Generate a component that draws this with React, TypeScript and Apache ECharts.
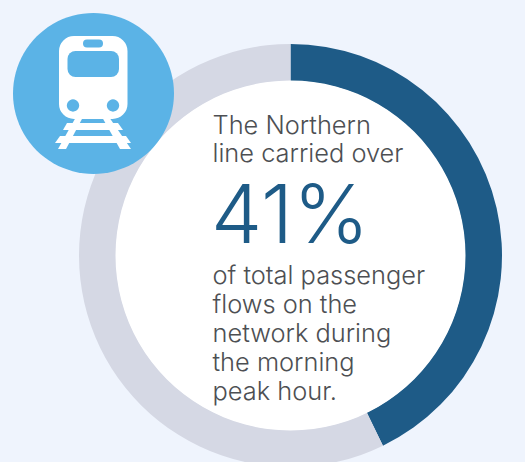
import React, { useEffect, useRef } from "react";
import * as echarts from "echarts";

const shareLabels = ["Northern line", "Rest of network"];
const shareValues = [42.8, 57.2];
const shareColors = ["#1e5b87", "#d5d8e4"];
const introLines = ["The Northern", "line carried over"];
const bigNumber = "41%";
const outroLines = ["of total passenger", "flows on the", "network during", "the morning", "peak hour."];

const FONT = "Inter";
const TEXT = "#4d4f53";
const ICON = "#5bb3e6";

function txt(text: string, x: number, centerY: number, fontSize: number, fill: string, fontWeight: number | string = 300) {
  return { type: "text", x, y: centerY, z: 20, silent: true,
    style: { text, fontFamily: FONT, fontSize, fontWeight, fill, verticalAlign: "middle", align: "left" } };
}

export default function App() {
  const ref = useRef<HTMLDivElement>(null);
  useEffect(() => {
    document.body.style.margin = "0";
    document.body.style.background = "#eff4fd";
    const chart = echarts.init(ref.current!, null, { renderer: "svg" });
    const white = { fill: "#ffffff" };
    const blue = { fill: ICON };
    chart.setOption({
      animation: false,
      backgroundColor: "#eff4fd",
      series: [{
        type: "pie", center: [290.5, 255.5], radius: [174.5, 211.5], startAngle: 90,
        silent: true, label: { show: false }, labelLine: { show: false }, z: 2,
        data: shareLabels.map((name, i) => ({ name, value: shareValues[i], itemStyle: { color: shareColors[i] } })),
      }],
      graphic: [
        { type: "circle", z: 5, silent: true, shape: { cx: 290.5, cy: 255.5, r: 175 }, style: white },
        { type: "circle", z: 10, silent: true, shape: { cx: 93.5, cy: 93.5, r: 80.5 }, style: blue },
        { type: "polygon", z: 11, silent: true, shape: { points: [[76, 117], [83, 117], [66, 149], [58, 149]] }, style: white },
        { type: "polygon", z: 11, silent: true, shape: { points: [[102, 117], [109, 117], [131, 149], [120, 149]] }, style: white },
        { type: "polygon", z: 11, silent: true, shape: { points: [[67, 123], [118, 123], [123, 130], [63, 130]] }, style: white },
        { type: "polygon", z: 11, silent: true, shape: { points: [[60, 136], [126, 136], [131, 143], [55, 143]] }, style: white },
        { type: "rect", z: 12, silent: true, shape: { x: 59, y: 36, width: 68.5, height: 83, r: 15 }, style: white },
        { type: "rect", z: 13, silent: true, shape: { x: 67.5, y: 51, width: 51.5, height: 26, r: 8 }, style: blue },
        { type: "rect", z: 13, silent: true, shape: { x: 83, y: 39.5, width: 20, height: 8, r: 4 }, style: blue },
        { type: "circle", z: 13, silent: true, shape: { cx: 73, cy: 105.5, r: 6.2 }, style: blue },
        { type: "circle", z: 13, silent: true, shape: { cx: 113, cy: 105.5, r: 6.2 }, style: blue },
        ...introLines.map((t, i) => txt(t, 212.5, 124 + i * 28, 25.4, TEXT)),
        txt(bigNumber, 211, 213, 81.5, shareColors[0]),
        ...outroLines.map((t, i) => txt(t, 212.5, 274 + i * 29.2, 25.4, TEXT)),
      ],
    });
    return () => chart.dispose();
  }, []);
  return <div ref={ref} style={{ width: 525, height: 462 }} />;
}
